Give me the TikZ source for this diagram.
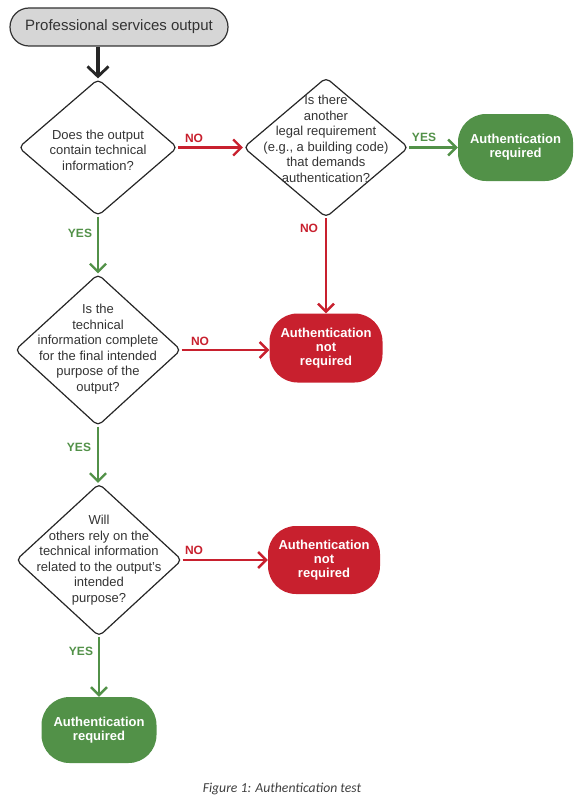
\documentclass[tikz,border=0pt]{standalone}
\usepackage{fontspec}
\setmainfont{Liberation Sans}
\newfontfamily\capfont{Carlito}
\usetikzlibrary{shapes.geometric,arrows.meta}
\definecolor{gr}{HTML}{529148}
\definecolor{rd}{HTML}{C8202E}
\definecolor{txt}{HTML}{333333}
\definecolor{startfill}{HTML}{D6D6D6}
\tikzset{
  dia/.style={diamond, draw=black!85, line width=1.2pt, rounded corners=5pt, inner sep=0pt},
  dtext/.style={align=center, text=txt, font=\fontsize{13}{15.5}\selectfont},
  term/.style={rounded corners=28pt, inner sep=0pt, align=center, text=white,
    font=\fontsize{13}{14}\selectfont\bfseries},
  greenterm/.style={term, fill=gr, minimum width=115pt, minimum height=67pt},
  redterm/.style={term, fill=rd, minimum width=113pt, minimum height=69pt},
  garrow/.style={draw=gr, line width=2.8pt, -{Straight Barb[length=8pt,width=16pt,line width=2.4pt]}},
  rarrow/.style={draw=rd, line width=2.8pt, -{Straight Barb[length=8pt,width=16pt,line width=2.4pt]}},
  karrow/.style={draw=black!85, line width=3.4pt, -{Straight Barb[length=10pt,width=21pt,line width=2.8pt]}},
  glab/.style={text=gr, font=\fontsize{12}{12}\selectfont\bfseries, inner sep=0pt},
  rlab/.style={text=rd, font=\fontsize{12}{12}\selectfont\bfseries, inner sep=0pt},
}
\begin{document}
\begin{tikzpicture}[x=1pt,y=-1pt]
\useasboundingbox (0,0) rectangle (582,800);
% start
\node[draw=black!80, line width=1.2pt, fill=startfill, rounded corners=19pt,
  minimum width=218pt, minimum height=38pt, inner sep=0pt, text=txt,
  font=\fontsize{15}{15}\selectfont] (start) at (119,27) {Professional services output};
% diamonds
\node[dia, minimum width=159pt, minimum height=137pt] (d1) at (98,147.5) {};
\node[dtext] (t1) at (98,150) {Does the output\\contain technical\\information?};
\node[dia, minimum width=165pt, minimum height=140pt] (d2) at (326,147.5) {};
\node[dtext] (t2) at (326,139) {Is there\\another\\legal requirement\\(e.g., a building code)\\that demands\\authentication?};
\node[dia, minimum width=166pt, minimum height=152pt] (d3) at (98,350) {};
\node[dtext] (t3) at (98,349) {Is the\\technical\\information complete\\for the final intended\\purpose of the\\output?};
\node[dia, minimum width=166pt, minimum height=153pt] (d4) at (99,560) {};
\node[dtext] (t4) at (99,560) {Will\\others rely on the\\technical information\\related to the output's\\intended\\purpose?};
% terminals
\node[greenterm] (g1) at (515.5,147.5) {Authentication\\required};
\node[redterm] (n1) at (326,348) {Authentication\\not\\required};
\node[redterm, minimum width=112pt, minimum height=68pt] (n2) at (324,560) {Authentication\\not\\required};
\node[greenterm, minimum height=66pt] (g2) at (99,730) {Authentication\\required};
% connectors
\draw[karrow] (start.south -| d1.north) -- (d1.north);
\draw[rarrow] (d1.east) -- (d2.west);
\draw[garrow] (d2.east) -- (g1.west);
\draw[rarrow] (d2.south) -- (n1.north);
\draw[garrow] (d1.south) -- (d3.north);
\draw[rarrow] (d3.east) -- (d3.east -| n1.west);
\draw[garrow] (d3.south) -- (d4.north -| d3.south);
\draw[rarrow] (d4.east) -- (n2.west);
\draw[garrow] (d4.south) -- (g2.north);
% labels
\node[rlab] (l1) at (194,138) {NO};
\node[glab] (l2) at (424,137) {YES};
\node[rlab] (l3) at (309,228) {NO};
\node[glab] (l4) at (80,233) {YES};
\node[rlab] (l5) at (200,341) {NO};
\node[glab] (l6) at (79,447) {YES};
\node[rlab] (l7) at (194,550) {NO};
\node[glab] (l8) at (81,651) {YES};
% caption
\node[text=black!75, font=\capfont\itshape\fontsize{13.7}{13.7}\selectfont] (cap) at (282,789) {Figure 1: Authentication test};
\end{tikzpicture}
\end{document}
